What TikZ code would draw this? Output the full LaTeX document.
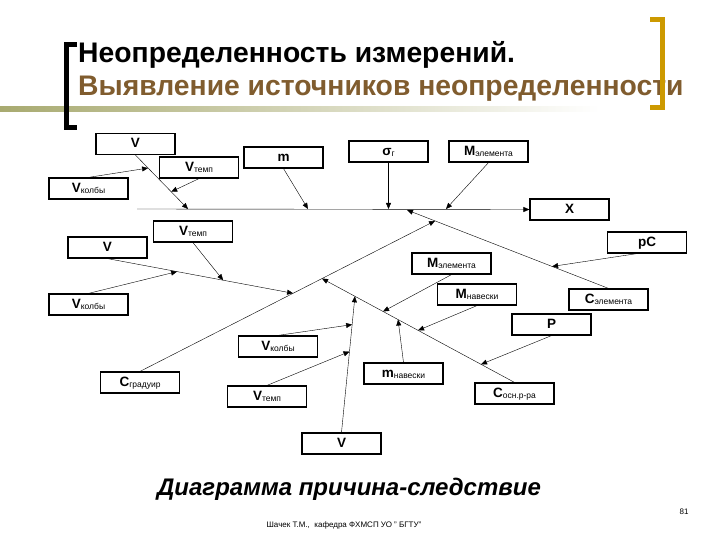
\documentclass[tikz,border=0pt]{standalone}
\usepackage{fontspec}
\setmainfont{Liberation Sans}
\usetikzlibrary{arrows.meta,calc}
\definecolor{titlebrown}{RGB}{128,92,46}
\definecolor{bracketgold}{RGB}{204,153,0}
\definecolor{lineolive}{RGB}{168,170,112}
\newcommand{\lbl}[2]{{\fontsize{13.5}{13.5}\selectfont\bfseries #1}\raisebox{-1.5pt}{\fontsize{8.5}{8.5}\selectfont #2}}
\tikzset{
	box/.style={draw, line width=1.2pt, minimum width=79pt, minimum height=21pt, inner sep=0pt, text height=9.7pt, text depth=2pt},
	>={Triangle[length=6pt,width=5pt]}
}
\begin{document}
\begin{tikzpicture}[x=1pt,y=-1pt]
	\useasboundingbox (0,0) rectangle (720,540);
	
	% title
	\shade[left color=lineolive, right color=white] (0,107) rectangle (600,112);
	\node[anchor=base west, inner sep=0pt, font=\fontsize{28.3}{28.3}\selectfont\bfseries] (t1) at (78,63) {Неопределенность измерений.};
	\node[anchor=base west, inner sep=0pt, font=\fontsize{28.3}{28.3}\selectfont\bfseries, text=titlebrown] (t2) at (78,96) {Выявление источников неопределенности};
	\draw[line width=5pt] (77,44.5)--(66,44.5)--(66,127.5)--(77,127.5);
	\draw[line width=5pt, bracketgold] (650,20)--(662,20)--(662,107.5)--(650,107.5);
	
	% boxes
	\node[box] (vA) at (135.5,144) {\lbl{V}{}};
	\node[box] (vtA) at (199,167.5) {\lbl{V}{темп}};
	\node[box] (mA) at (283.5,157.5) {\lbl{m}{}};
	\node[box] (sg) at (388.5,151.5) {\lbl{σ}{г}};
	\node[box] (meA) at (488.5,151.5) {\lbl{M}{элемента}};
	\node[box] (vkA) at (88.5,188.5) {\lbl{V}{колбы}};
	\node[box] (X) at (569.5,209.5) {\lbl{X}{}};
	\node[box] (vtB) at (193,231.5) {\lbl{V}{темп}};
	\node[box] (vB) at (107.5,247.5) {\lbl{V}{}};
	\node[box] (pC) at (647,242.5) {\lbl{pC}{}};
	\node[box] (meB) at (451.5,263.5) {\lbl{M}{элемента}};
	\node[box] (mn) at (477,294.5) {\lbl{M}{навески}};
	\node[box] (ce) at (608.5,299.5) {\lbl{C}{элемента}};
	\node[box] (vkB) at (88.5,304.5) {\lbl{V}{колбы}};
	\node[box] (P) at (551.5,324.5) {\lbl{P}{}};
	\node[box] (vkC) at (278,346.5) {\lbl{V}{колбы}};
	\node[box] (cg) at (140,382.5) {\lbl{C}{градуир}};
	\node[box] (mnv) at (403.5,373.5) {\lbl{m}{навески}};
	\node[box] (vtC) at (267,396.5) {\lbl{V}{темп}};
	\node[box] (co) at (514.5,393.5) {\lbl{C}{осн.р-ра}};
	\node[box] (vC) at (341.5,443.5) {\lbl{V}{}};
	
	% spine
	\coordinate (s0) at (137,209);
	\draw[->] (s0) -- (X.west);
	\coordinate (sA) at (188,209);
	\coordinate (sm) at (308,209);
	\coordinate (ss) at (388.5,209);
	\coordinate (se) at (446,209);
	\coordinate (sc) at (407,210);
	\draw[->] (vA.south) -- (sA);
	\draw[->] (vkA.north) -- ($(vA.south)!0.24!(sA)$);
	\draw[->] (vtA.south) -- ($(vA.south)!0.68!(sA)$);
	\draw[->] (mA.south) -- (sm);
	\draw[->] (sg.south) -- (ss);
	\draw[->] (meA.south) -- (se);
	
	% C element bone
	\draw[->] (ce.north) -- (sc);
	\draw[->] ([xshift=-10pt]pC.south) -- ($(ce.north)!0.28!(sc)$);
	
	% C graduir bone
	\coordinate (c3) at ($(ce.north)!0.861!(sc)$);
	\draw[->] (cg.north) -- (c3);
	\coordinate (c3v) at ($(cg.north)!0.519!(c3)$);
	\draw[->] (vB.south) -- (c3v);
	\draw[->] (vkB.north) -- ($(vB.south)!0.375!(c3v)$);
	\draw[->] (vtB.south) -- ($(vB.south)!0.623!(c3v)$);
	
	% C osn bone
	\coordinate (c4) at ($(cg.north)!0.617!(c3)$);
	\draw[->] (co.north) -- (c4);
	\draw[->] (meB.south) -- ($(co.north)!0.683!(c4)$);
	\draw[->] (mn.south) -- ($(co.north)!0.501!(c4)$);
	\draw[->] (P.south) -- ($(co.north)!0.174!(c4)$);
	\draw[->] (mnv.north) -- ($(co.north)!0.605!(c4)$);
	
	% V bone
	\coordinate (c5) at ($(co.north)!0.829!(c4)$);
	\draw[->] (vC.north) -- (c5);
	\draw[->] (vkC.north) -- ($(vC.north)!0.792!(c5)$);
	\draw[->] (vtC.north) -- ($(vC.north)!0.594!(c5)$);
	
	% caption
	\node[anchor=base, inner sep=0pt, font=\fontsize{24}{24}\selectfont\bfseries\itshape] (cap) at (349,495) {Диаграмма причина-следствие};
	\node[anchor=base, inner sep=0pt, font=\fontsize{8}{8}\selectfont] (pg) at (684,514) {81};
	\node[anchor=base, inner sep=0pt, font=\fontsize{8}{8}\selectfont] (ft) at (344,527) {Шачек Т.М.,\ \ кафедра ФХМСП УО " БГТУ"};
\end{tikzpicture}
\end{document}
